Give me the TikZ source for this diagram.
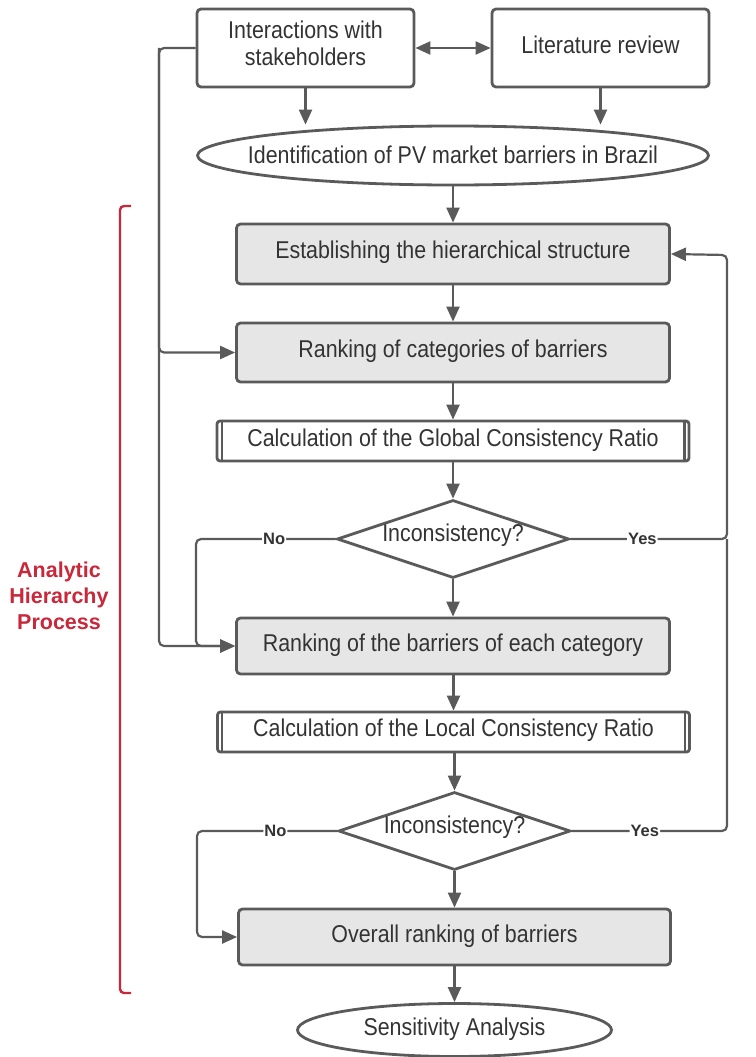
\documentclass[tikz,border=0pt]{standalone}
\usepackage{fontspec}
\setmainfont{Liberation Sans}[FakeStretch=0.88]
\newfontfamily\plainsans{Liberation Sans}
\usetikzlibrary{arrows.meta,shapes.geometric,calc}
\definecolor{lc}{HTML}{5A5A5A}
\definecolor{tc}{HTML}{333333}
\definecolor{bf}{HTML}{E6E6E6}
\definecolor{ahp}{HTML}{C8283A}
\begin{document}
\begin{tikzpicture}[x=1pt,y=-1pt,
  every node/.style={text=tc},
  txt/.style={font=\fontsize{24.3}{27}\selectfont, align=center, inner sep=0},
  plainbox/.style={draw=lc, line width=2.8pt, rounded corners=4pt, fill=white},
  grey/.style={draw=lc, line width=2.8pt, rounded corners=4pt, fill=bf},
  predef/.style={draw=lc, line width=2.8pt, rounded corners=3pt, fill=white},
  dia/.style={draw=lc, line width=2.8pt, diamond, inner sep=0, fill=white},
  ell/.style={draw=lc, line width=2.8pt, ellipse, inner sep=0, fill=white},
  tip/.tip={Triangle[length=15pt,width=13pt]},
  arr/.style={draw=lc, line width=2.2pt, -tip, rounded corners=5pt},
  ln/.style={draw=lc, line width=2.2pt, rounded corners=5pt},
  lbl/.style={font=\plainsans\bfseries\fontsize{16.5}{18}\selectfont, fill=white, inner sep=1pt, text=tc}
]
\useasboundingbox (0,0) rectangle (755,1057);

% top boxes
\node[plainbox, minimum width=217, minimum height=78] (ia) at (305.5,48) {};
\node[txt] at (305.5,43) {Interactions with\\stakeholders};
\node[plainbox, minimum width=217, minimum height=78] (lr) at (600.5,48) {};
\node[txt] at (600.5,45) {Literature review};

% ellipse
\node[ell, minimum width=511, minimum height=59] (el) at (453,155.5) {};
\node[txt] at (453,155) {Identification of PV market barriers in Brazil};

% process boxes
\node[grey, minimum width=433, minimum height=60] (b1) at (453,254) {};
\node[txt] at (453,252) {Establishing the hierarchical structure};
\node[grey, minimum width=433, minimum height=59] (b2) at (453,352.5) {};
\node[txt] at (453,351) {Ranking of categories of barriers};

\node[predef, minimum width=472, minimum height=40] (b3) at (453,441) {};
\draw[lc, line width=2.2pt] ($(b3.north west)+(6,0)$) -- ($(b3.south west)+(6,0)$);
\draw[lc, line width=2.2pt] ($(b3.north east)+(-6,0)$) -- ($(b3.south east)+(-6,0)$);
\node[txt] at (453,440) {Calculation of the Global Consistency Ratio};

\node[dia, minimum width=232, minimum height=78] (d1) at (453,539) {};
\node[txt] at (453,535) {Inconsistency?};

\node[grey, minimum width=433, minimum height=56] (b4) at (453,646) {};
\node[txt] at (453,645) {Ranking of the barriers of each category};

\node[predef, minimum width=472, minimum height=40] (b5) at (453.5,732) {};
\draw[lc, line width=2.2pt] ($(b5.north west)+(6,0)$) -- ($(b5.south west)+(6,0)$);
\draw[lc, line width=2.2pt] ($(b5.north east)+(-6,0)$) -- ($(b5.south east)+(-6,0)$);
\node[txt] at (453.5,730) {Calculation of the Local Consistency Ratio};

\node[dia, minimum width=232, minimum height=78] (d2) at (454.5,831) {};
\node[txt] at (454.5,827) {Inconsistency?};

\node[grey, minimum width=432, minimum height=56] (b6) at (454.5,937) {};
\node[txt] at (454.5,936) {Overall ranking of barriers};

\node[ell, minimum width=314, minimum height=53] (e2) at (454.5,1030) {};
\node[txt] at (454.5,1029) {Sensitivity Analysis};

% connectors
\draw[ln, tip-tip] (ia.east) -- (lr.west);
\draw[arr] (ia.south) -- (ia.south |- el.north);
\draw[arr] (lr.south) -- (lr.south |- el.north);
\draw[arr] (el.south) -- (b1.north);
\draw[arr] (b1.south) -- (b2.north);
\draw[arr] (b2.south) -- (b3.north);
\draw[arr] (b3.south) -- (d1.north);
\draw[arr] (d1.south) -- (b4.north);
\draw[arr] (b4.south -| b5.center) -- (b5.north);
\draw[arr] (b5.south -| d2.center) -- (d2.north);
\draw[arr] (d2.south) -- (b6.north);
\draw[arr] (b6.south) -- (e2.north);

% left feed from stakeholders
\coordinate (lt) at (159,48);
\coordinate (lb) at (159,646);
\draw[arr] (ia.west) -- (lt) |- (b2.west);
\draw[arr] (lt) -- (lb) -- (b4.west);

% No branches
\coordinate (n1) at (196,539);
\coordinate (n2) at (197,831);
\draw[arr] (d1.west) -- node[lbl, pos=0.44]{No} (n1) |- (b4.west);
\draw[arr] (d2.west) -- node[lbl, pos=0.44]{No} (n2) |- (b6.west);

% Yes branches
\coordinate (y1) at (727,539);
\coordinate (y2) at (727,831);
\coordinate (yt) at (727,255);
\draw[arr] (d1.east) -- node[lbl, pos=0.46]{Yes} (y1) -- (yt) -- (b1.east);
\draw[ln] (d2.east) -- node[lbl, pos=0.47]{Yes} (y2) -- (y1);

% AHP bracket
\draw[ahp, line width=2.4pt, rounded corners=4pt] (131,206) -- (120,206) -- (120,993) -- (131,993);
\node[font=\plainsans\bfseries\fontsize{21.5}{26}\selectfont, text=ahp, align=center, inner sep=0] (ahpt) at (59,596) {Analytic\\Hierarchy\\Process};
\end{tikzpicture}
\end{document}
